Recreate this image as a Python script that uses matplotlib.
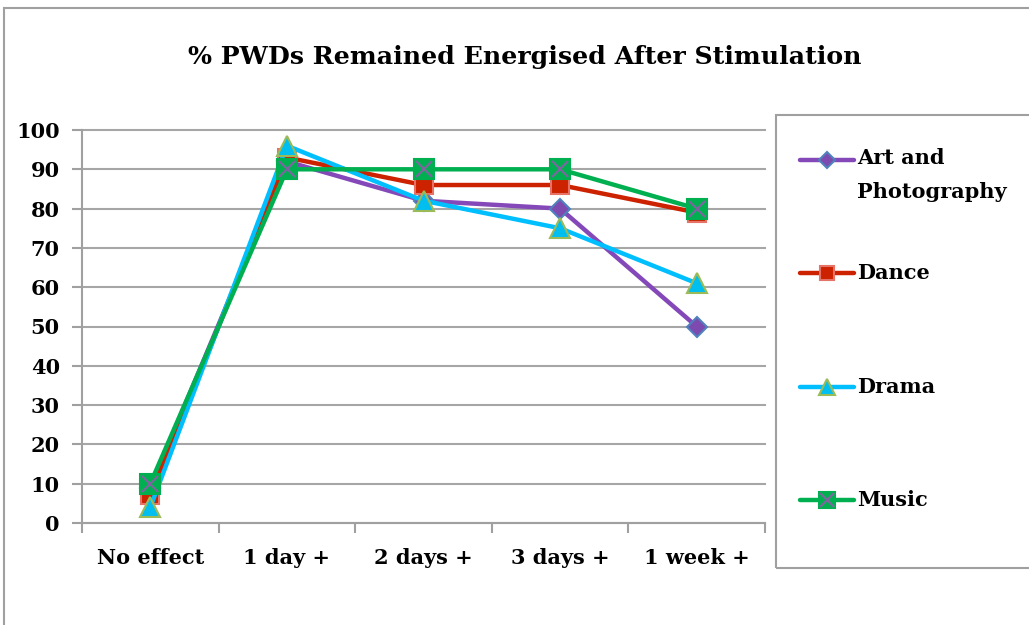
import numpy as np
import matplotlib.pyplot as plt
from matplotlib.lines import Line2D
from matplotlib.patches import Rectangle

categories = ['No effect', '1 day +', '2 days +', '3 days +', '1 week +']
art = [9, 92, 82, 80, 50]
dance = [7, 93, 86, 86, 79]
drama = [4, 96, 82, 75, 61]
music = [10, 90, 90, 90, 80]
series_names = ['Art and\nPhotography', 'Dance', 'Drama', 'Music']

W, H = 1029, 625
plt.rcParams['font.family'] = ['DejaVu Serif']
plt.rcParams['font.weight'] = 'bold'

fig = plt.figure(figsize=(W / 100, H / 100), dpi=100)
fig.patch.set_facecolor('white')


def fx(px):
    return px / W


def fy(py):
    return 1 - py / H


# outer chart border
fig.patches.append(Rectangle((fx(3.5), -0.2), 1.2, fy(8.5) + 0.2, transform=fig.transFigure,
                             fill=False, edgecolor='#a0a0a0', linewidth=1.5))

ax = fig.add_axes([fx(82), fy(523), fx(765) - fx(82), fy(130) - fy(523)])
x = np.arange(len(categories)) + 0.5

styles = [
    dict(color='#8448b8', marker='D', markersize=10, markerfacecolor='#7d4bb0', markeredgecolor='#4f81bd'),
    dict(color='#cc2200', marker='s', markersize=13, markerfacecolor='#cc2200', markeredgecolor='#e57368'),
    dict(color='#00bfff', marker='^', markersize=14, markerfacecolor='#00bff0', markeredgecolor='#9bbb59'),
    dict(color='#00b050', marker='s', markersize=15, markerfacecolor='#00b050', markeredgecolor='#00b050'),
]
data = [art, dance, drama, music]

for i, (vals, st) in enumerate(zip(data, styles)):
    ax.plot(x, vals, linewidth=3.2, markeredgewidth=1.5, zorder=3 + i, clip_on=False, **st)
ax.plot(x, music, linestyle='none', marker='x', markersize=12, markeredgecolor='#8064a2',
        markeredgewidth=1.5, zorder=8, clip_on=False)

ax.set_xlim(0, 5)
ax.set_ylim(0, 100)
ax.set_yticks(range(0, 101, 10))
ax.set_xticks(range(0, 6))
ax.set_xticklabels([])
ax.set_xticks(x, minor=True)
ax.set_xticklabels(categories, minor=True, fontsize=15, fontweight='bold')
ax.tick_params(axis='x', which='minor', length=0, pad=18)
ax.tick_params(axis='x', which='major', direction='out', length=7, color='#a0a0a0', width=1.5)
ax.tick_params(axis='y', direction='out', length=7, color='#a0a0a0', width=1.5, labelsize=15, pad=9)
for lab in ax.get_yticklabels():
    lab.set_fontweight('bold')
ax.yaxis.grid(True, color='#a6a6a6', linewidth=1.5)
for gl in ax.get_ygridlines():
    gl.set_clip_on(False)
ax.set_axisbelow(True)
for s in ['top', 'right']:
    ax.spines[s].set_visible(False)
for s in ['left', 'bottom']:
    ax.spines[s].set_color('#a0a0a0')
    ax.spines[s].set_linewidth(1.5)

fig.text(fx(525), fy(57), '% PWDs Remained Energised After Stimulation', ha='center', va='center',
         fontsize=18.2, fontweight='bold')

# legend box
fig.patches.append(Rectangle((fx(776), fy(568)), 1.0, fy(115) - fy(568), transform=fig.transFigure,
                             fill=False, edgecolor='#a0a0a0', linewidth=1.5))
legend_y = [160, 273, 387, 500]
for name, st, ly in zip(series_names, styles, legend_y):
    h = Line2D([fx(800), fx(827), fx(854)], [fy(ly)] * 3, transform=fig.transFigure, linewidth=3.2,
               markevery=[1], markeredgewidth=1.5, solid_capstyle='round', **st)
    h.set_markersize(st['markersize'] * 0.8)
    fig.add_artist(h)
    if st['marker'] == 's' and st['color'] == '#00b050':
        fig.add_artist(Line2D([fx(827)], [fy(ly)], transform=fig.transFigure, linestyle='none',
                              marker='x', markersize=10, markeredgecolor='#8064a2', markeredgewidth=1.5))
    fig.text(fx(857), fy(ly), name, ha='left', va='top' if '\n' in name else 'center',
             fontsize=15, fontweight='bold', linespacing=1.9,
             transform=fig.transFigure)

fig.texts[-4].set_position((fx(857), fy(148)))

fig.savefig('out.png', dpi=100)
